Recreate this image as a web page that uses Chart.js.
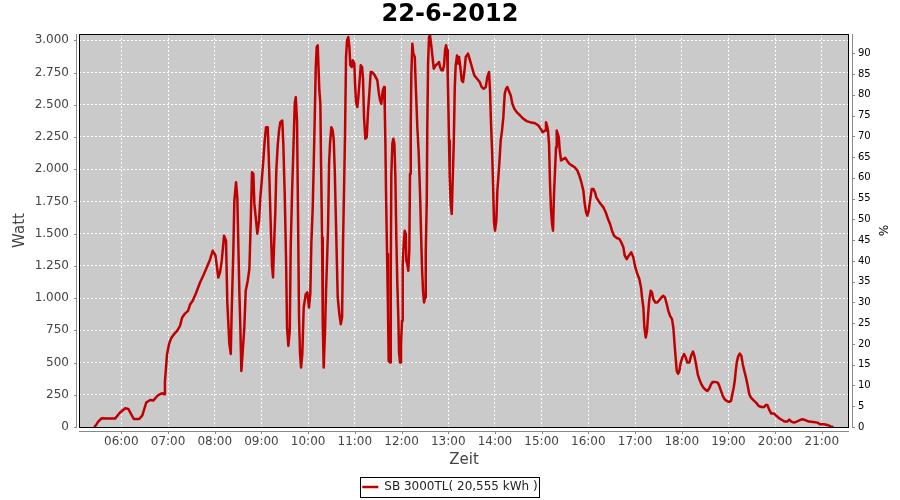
<!DOCTYPE html>
<html>
<head>
<meta charset="utf-8">
<script src="https://cdn.jsdelivr.net/npm/chart.js@4"></script>
<style>
  html, body { margin: 0; padding: 0; background: #fff; }
  #wrap { width: 900px; height: 500px; }
</style>
</head>
<body>
<div id="wrap"><canvas id="chart" width="900" height="500"></canvas></div>
<script>
// Tagesverlauf Wechselrichter, Minuten seit Mitternacht / Watt
const titel = '22-6-2012';
const serie = 'SB 3000TL( 20,555 kWh )';

const minuten = [
  324.9, 327.5, 330, 334.8, 343, 352, 358, 365, 369, 373, 376, 383, 387, 392, 397, 401, 407, 412, 415, 416,
  417.4, 418.7, 421.3, 423.9, 427.7, 431.6, 435.4, 438, 441.8, 445.7, 448.3, 451.7, 456, 461.1, 465.6, 469.7, 474, 477.4, 481, 484.6,
  486.8, 489, 492, 494.5, 496.2, 498.8, 500.6, 501.8, 503.9, 505.2, 507.4, 509, 511.6, 512.9, 514.2, 516, 518, 519.8, 522.4, 524.5,
  526.2, 527.9, 529.6, 530.9, 533.1, 534.7, 536.9, 538.6, 540.8, 542.4, 544.2, 545.9, 548.1, 549.4, 550.2, 551.4, 552.7, 553.6, 554.9, 556.2,
  557.9, 559.1, 560.9, 562.6, 564.3, 566.8, 568.1, 569.9, 571.6, 572.9, 574.6, 576.4, 577.6, 579.3, 581, 582.8, 584.1, 585.7, 587, 588.3,
  589.6, 590.9, 592.5, 594.3, 596.9, 599, 601.1, 602.8, 604.1, 605.9, 607.2, 608.5, 609.8, 611, 612.3, 614.4, 615.7, 616.6, 617.9, 618.8,
  620, 621.7, 623, 624.3, 625.6, 626.9, 628.1, 629.8, 631.6, 632.9, 634.2, 635.5, 636.8, 638, 640.1, 641.9, 643.6, 644.8, 646.1, 647.4,
  648.7, 650, 651.6, 653, 654.2, 656, 657.3, 659.3, 660.3, 661.5, 663.2, 664.5, 665.8, 667.6, 669.3, 670.5, 671.8, 673.5, 675.3, 677,
  678.6, 680.4, 682.1, 685.6, 688.9, 690.7, 692.4, 694, 695.9, 697.5, 698.4, 699.2, 700.1, 701.4, 702.6, 703.5, 705.2, 706.1, 706.9, 708.2,
  709.5, 710.8, 712, 713.3, 714.6, 715.9, 716.8, 718.1, 719.3, 720.6, 721.5, 722.8, 724.1, 725.4, 726.2, 727.4, 728.7, 730, 730.9, 731.8,
  732.6, 733.9, 735.2, 737, 738.6, 740.3, 742.1, 743.8, 745.1, 746.3, 747.6, 748.9, 750.2, 751.1, 752.4, 753.1, 754.1, 755.3, 756.6, 757.9,
  759.6, 761.4, 764, 766.5, 768.2, 769.5, 771.2, 773, 774.6, 775.9, 777.2, 778.5, 779.4, 780.1, 781, 781.9, 783.2, 784.5, 785.8, 787.1,
  788.4, 789.6, 791.3, 792.6, 793.9, 795.5, 797.4, 799, 800.7, 802.5, 805.4, 808, 811, 813.5, 817, 820.4, 823, 825.6, 828.2, 830.2,
  832.4, 833.7, 835, 836.3, 837.6, 838.8, 840.1, 841.8, 843.1, 844.4, 845.6, 847.4, 849.1, 850.8, 852.6, 854.3, 855.9, 857.7, 860.3, 862.4,
  864.9, 868, 872.2, 876.5, 880.8, 885.1, 891.5, 895.8, 898.8, 901.4, 904.4, 905.6, 906.9, 908.2, 909.5, 910.8, 912.1, 913.4, 914.6, 915.9,
  917.2, 918.5, 919.4, 920.7, 922, 923.3, 925, 927.9, 930.5, 933.1, 935.6, 939.1, 942.5, 945.9, 948.4, 951, 953.6, 955.4, 957.1, 958.7,
  960.5, 962.2, 964.4, 966.4, 968.6, 970.3, 972.9, 975.9, 979.3, 982.3, 985.3, 987.9, 990.4, 993, 996.5, 999.8, 1002.4, 1005, 1006.8, 1009.3,
  1011.9, 1015.2, 1017.8, 1020.4, 1023, 1025.5, 1027.7, 1029, 1030.7, 1032, 1033.8, 1035.4, 1037.1, 1038.4, 1040.2, 1041.8, 1043.5, 1046.1, 1048.6, 1051.2,
  1053.8, 1056.3, 1058.5, 1060.7, 1062.8, 1065, 1067.5, 1069.2, 1070.5, 1071.8, 1073.6, 1075.3, 1076.9, 1078.7, 1080.8, 1083, 1085.2, 1087.2, 1089.8, 1092,
  1094.5, 1096.2, 1098.4, 1100.6, 1102.6, 1105.2, 1107.8, 1110.3, 1112.9, 1115.5, 1117.6, 1119.9, 1122.8, 1126.3, 1128.3, 1130.5, 1132.7, 1135.2, 1137.8, 1140.4,
  1143.3, 1145, 1146.8, 1148.1, 1149.4, 1150.7, 1152.3, 1154.5, 1156.6, 1158.4, 1160.4, 1162.6, 1164.8, 1166.8, 1169, 1172, 1175.5, 1178.9, 1182.3, 1185.7,
  1188.3, 1190, 1192.2, 1195.1, 1198.6, 1202, 1205.4, 1208.9, 1212.3, 1215.7, 1218.2, 1220.8, 1224.3, 1227.7, 1231.1, 1234.6, 1238.8, 1243.3, 1249.1, 1254.3,
  1257.7, 1262.8, 1267.1, 1271.6, 1274.8
];

const watt = [
  0, 15, 40, 68, 65, 65, 110, 145, 140, 95, 62, 62, 90, 190, 210, 205, 246, 262, 255, 350,
  461, 565, 643, 688, 720, 746, 785, 847, 880, 901, 950, 979, 1040, 1121, 1180, 1238, 1300, 1368, 1330, 1160,
  1200, 1290, 1484, 1445, 956, 645, 567, 901, 1368, 1756, 1899, 1782, 1057, 772, 435, 590, 772, 1057, 1135, 1228,
  1578, 1977, 1964, 1733, 1601, 1500, 1601, 1782, 1938, 2067, 2223, 2326, 2326, 2093, 1938, 1679, 1422, 1251, 1160, 1407,
  1679, 1990, 2184, 2300, 2365, 2378, 2197, 1808, 1316, 772, 629, 746, 1394, 1808, 2145, 2508, 2559, 2378, 1653, 849,
  565, 461, 565, 927, 1031, 1044, 927, 1034, 1420, 1704, 2042, 2404, 2793, 2948, 2961, 2611, 2508, 2042, 1471, 798,
  461, 746, 1057, 1290, 1549, 2042, 2197, 2326, 2300, 2223, 1990, 1653, 1316, 1005, 876, 798, 849, 1420, 1834, 2275,
  2871, 3000, 3026, 2948, 2806, 2793, 2845, 2819, 2663, 2520, 2482, 2559, 2663, 2806, 2793, 2702, 2404, 2236, 2249, 2456,
  2586, 2754, 2754, 2728, 2689, 2598, 2534, 2508, 2611, 2637, 2482, 2223, 1808, 1342, 901, 513, 500, 1135, 1964, 2197,
  2236, 2197, 1964, 1471, 1109, 849, 578, 500, 643, 824, 1264, 1420, 1523, 1498, 1290, 1264, 1212, 1368, 1964, 2326,
  2741, 2974, 2897, 2871, 2598, 2326, 2119, 1808, 1498, 1238, 1057, 966, 1005, 1355, 1756, 2326, 2819, 3026, 3039, 2974,
  2883, 2780, 2806, 2819, 2832, 2793, 2767, 2767, 2806, 2922, 2961, 2922, 2715, 2508, 2223, 1938, 1730, 1653, 1938, 2197,
  2637, 2806, 2883, 2819, 2871, 2793, 2689, 2676, 2754, 2871, 2897, 2845, 2780, 2728, 2702, 2676, 2637, 2624, 2637, 2715,
  2754, 2611, 2352, 2145, 1886, 1588, 1523, 1601, 1834, 1938, 2042, 2223, 2300, 2404, 2586, 2624, 2637, 2611, 2572, 2508,
  2469, 2443, 2417, 2391, 2373, 2365, 2357, 2339, 2313, 2287, 2300, 2365, 2339, 2300, 2197, 1886, 1679, 1575, 1523, 1808,
  1990, 2171, 2300, 2275, 2249, 2145, 2067, 2080, 2088, 2062, 2042, 2028, 2015, 1990, 1951, 1899, 1834, 1730, 1666, 1640,
  1679, 1756, 1847, 1847, 1821, 1782, 1756, 1730, 1704, 1666, 1614, 1575, 1523, 1484, 1466, 1459, 1432, 1394, 1329, 1303,
  1329, 1355, 1316, 1238, 1187, 1148, 1083, 1005, 927, 772, 694, 746, 901, 992, 1057, 1044, 992, 966, 966, 984,
  1005, 1018, 1005, 954, 901, 863, 837, 772, 668, 565, 435, 414, 435, 500, 539, 565, 539, 500, 500, 552,
  585, 552, 487, 409, 371, 332, 306, 290, 280, 301, 332, 350, 350, 344, 319, 280, 241, 215, 202, 194,
  202, 254, 306, 358, 435, 500, 544, 570, 552, 487, 435, 383, 319, 254, 228, 208, 189, 163, 155, 155,
  171, 171, 137, 104, 104, 85, 67, 54, 42, 42, 57, 42, 34, 42, 52, 60, 54, 42, 39, 34,
  21, 21, 16, 5, 0
];

const stunden = ['06:00', '07:00', '08:00', '09:00', '10:00', '11:00', '12:00', '13:00',
                 '14:00', '15:00', '16:00', '17:00', '18:00', '19:00', '20:00', '21:00'];
const wattTicks = [0, 250, 500, 750, 1000, 1250, 1500, 1750, 2000, 2250, 2500, 2750, 3000];
const prozentTicks = [0, 5, 10, 15, 20, 25, 30, 35, 40, 45, 50, 55, 60, 65, 70, 75, 80, 85, 90];

// Achsenbereich
const xMin = 305.6, xMax = 1294.9;
const wattMax = 3049, prozentMax = 94.65;

Chart.defaults.font.family = "'DejaVu Sans', sans-serif";

function tausender(v) {
  return String(v).replace(/\B(?=(\d{3})+(?!\d))/g, '.');
}
function zuMinuten(s) {
  const p = s.split(':');
  return Number(p[0]) * 60 + Number(p[1]);
}

// Hintergrund, Rahmen, abgesetzte Achslinien und Legendenrahmen
const rahmen = {
  id: 'rahmen',
  beforeDraw(chart) {
    const {ctx, chartArea: a} = chart;
    ctx.save();
    ctx.fillStyle = '#cacaca';
    ctx.fillRect(a.left, a.top, a.right - a.left, a.bottom - a.top);
    ctx.restore();
  },
  afterDraw(chart) {
    const {ctx, chartArea: a, scales} = chart;
    ctx.save();
    ctx.lineWidth = 1;
    ctx.strokeStyle = '#000';
    ctx.strokeRect(a.left + 0.5, a.top + 0.5, a.right - a.left - 1, a.bottom - a.top);

    ctx.strokeStyle = '#888';
    ctx.beginPath();
    const xl = a.left - 2.5, xr = a.right + 3.5, yb = a.bottom + 4.5;
    ctx.moveTo(xl, a.top); ctx.lineTo(xl, a.bottom + 1);
    scales.y.ticks.forEach(t => {
      const p = Math.round(scales.y.getPixelForValue(t.value)) + 0.5;
      ctx.moveTo(xl - 2.5, p); ctx.lineTo(xl, p);
    });
    ctx.moveTo(xr, a.top); ctx.lineTo(xr, a.bottom + 1);
    scales.y1.ticks.forEach(t => {
      const p = Math.round(scales.y1.getPixelForValue(t.value)) + 0.5;
      ctx.moveTo(xr, p); ctx.lineTo(xr + 2.5, p);
    });
    ctx.moveTo(a.left, yb); ctx.lineTo(a.right, yb);
    scales.x.ticks.forEach(t => {
      const p = Math.round(scales.x.getPixelForValue(t.value)) + 0.5;
      ctx.moveTo(p, yb); ctx.lineTo(p, yb + 2.5);
    });
    ctx.stroke();

    const lg = chart.legend;
    const hb = lg.legendHitBoxes[0];
    if (hb) {
      const mitte = lg.top + lg.options.labels.padding + 6;
      ctx.strokeStyle = '#000';
      ctx.strokeRect(Math.round(hb.left) - 1.5, Math.round(mitte) - 9.5, Math.round(hb.width) + 4, 20);
    }
    ctx.restore();
  }
};

new Chart(document.getElementById('chart'), {
  type: 'line',
  data: {
    datasets: [{
      label: serie,
      data: minuten.map((m, i) => ({x: m, y: watt[i]})),
      borderColor: '#c00000',
      backgroundColor: '#c00000',
      borderWidth: 2.5,
      borderJoinStyle: 'round',
      pointRadius: 0,
      fill: false,
      tension: 0,
      yAxisID: 'y'
    }]
  },
  options: {
    responsive: false,
    animation: false,
    layout: { padding: { left: 0, right: 0, top: 0, bottom: -3 } },
    plugins: {
      title: {
        display: true,
        text: titel,
        color: '#000',
        font: { size: 24, weight: 'bold' },
        padding: { top: 0, bottom: 5.2 }
      },
      legend: {
        position: 'bottom',
        labels: {
          color: '#222',
          font: { size: 12 },
          usePointStyle: true,
          pointStyle: 'line',
          pointStyleWidth: 16,
          boxWidth: 16,
          padding: 10
        }
      },
      tooltip: { enabled: false }
    },
    scales: {
      x: {
        type: 'linear',
        min: xMin,
        max: xMax,
        bounds: 'data',
        grid: { color: '#fff', lineWidth: 1, drawTicks: false },
        border: { display: false, dash: [2, 2] },
        ticks: {
          color: '#444',
          font: { size: 12 },
          padding: 8,
          autoSkip: false,
          maxRotation: 0,
          callback: (v, i) => stunden[i]
        },
        afterBuildTicks: s => { s.ticks = stunden.map(h => ({value: zuMinuten(h)})); },
        afterFit: s => { s.height = 44; },
        title: { display: true, text: 'Zeit', color: '#444', font: { size: 15 }, padding: { top: 0, bottom: 2 } }
      },
      y: {
        position: 'left',
        min: 0,
        max: wattMax,
        bounds: 'data',
        grid: { color: '#fff', lineWidth: 1, drawTicks: false },
        border: { display: false, dash: [2, 2] },
        ticks: { color: '#444', font: { size: 12 }, padding: 10, callback: v => tausender(v) },
        afterBuildTicks: s => { s.ticks = wattTicks.map(v => ({value: v})); },
        afterFit: s => { s.width = 79; },
        title: { display: true, text: 'Watt', color: '#444', font: { size: 15 }, padding: { top: 11, bottom: 0 } }
      },
      y1: {
        position: 'right',
        min: 0,
        max: prozentMax,
        bounds: 'data',
        grid: { display: false, drawTicks: false },
        border: { display: false },
        ticks: { color: '#000', font: { size: 10 }, padding: 9, callback: v => String(v) },
        afterBuildTicks: s => { s.ticks = prozentTicks.map(v => ({value: v})); },
        afterFit: s => { s.width = 51; },
        title: { display: true, text: '%', color: '#000', font: { size: 12 }, padding: { top: 11, bottom: 0 } }
      }
    }
  },
  plugins: [rahmen]
});
</script>
</body>
</html>
